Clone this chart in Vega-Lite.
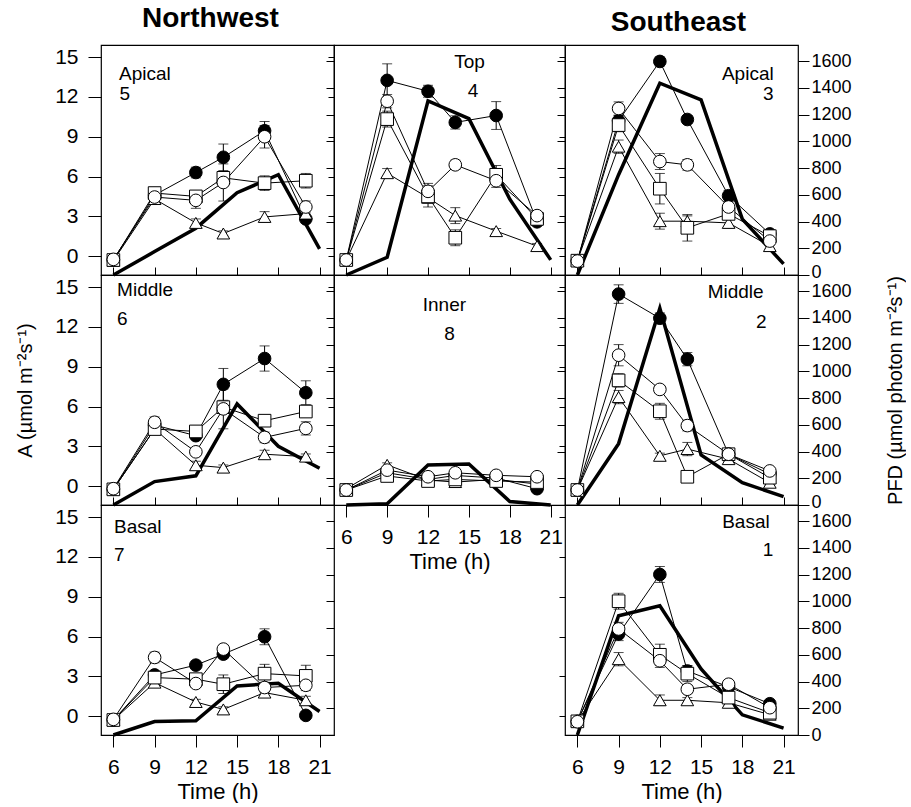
{
"$schema": "https://vega.github.io/schema/vega-lite/v6.json",
"padding": {"left": 15, "top": 4, "right": 0, "bottom": 0},
"background": "white",
"config": {
  "font": "Liberation Sans",
  "view": {"stroke": "black", "strokeWidth": 1.2},
  "axis": {"domain": false, "grid": false, "tickColor": "black", "tickWidth": 1, "labelColor": "black", "titleColor": "black", "labelFont": "Liberation Sans", "titleFont": "Liberation Sans", "titleFontWeight": "normal"},
  "title": {"font": "Liberation Sans", "color": "black", "fontWeight": "bold", "fontSize": 28},
  "text": {"font": "Liberation Sans", "fontSize": 19, "color": "black"}
},
"datasets": {
"pts": [
{"panel":5,"series":"filled circle","time":6,"A":-0.3,"se":0.1},{"panel":5,"series":"filled circle","time":9,"A":4.6,"se":0.3},{"panel":5,"series":"filled circle","time":12,"A":6.3,"se":0.4},{"panel":5,"series":"filled circle","time":14,"A":7.45,"se":1.0},{"panel":5,"series":"filled circle","time":17,"A":9.45,"se":0.7},{"panel":5,"series":"filled circle","time":20,"A":2.8,"se":0.3},
{"panel":5,"series":"open triangle","time":6,"A":-0.35,"se":0.1},{"panel":5,"series":"open triangle","time":9,"A":4.3,"se":0.2},{"panel":5,"series":"open triangle","time":12,"A":2.5,"se":0.3},{"panel":5,"series":"open triangle","time":14,"A":1.7,"se":0.2},{"panel":5,"series":"open triangle","time":17,"A":2.95,"se":0.4},{"panel":5,"series":"open triangle","time":20,"A":3.2,"se":0.2},
{"panel":5,"series":"open square","time":6,"A":-0.3,"se":0.1},{"panel":5,"series":"open square","time":9,"A":4.75,"se":0.3},{"panel":5,"series":"open square","time":12,"A":4.5,"se":0.3},{"panel":5,"series":"open square","time":14,"A":5.9,"se":0.35},{"panel":5,"series":"open square","time":17,"A":5.5,"se":0.55},{"panel":5,"series":"open square","time":20,"A":5.68,"se":0.55},
{"panel":5,"series":"open circle","time":6,"A":-0.25,"se":0.3},{"panel":5,"series":"open circle","time":9,"A":4.45,"se":0.3},{"panel":5,"series":"open circle","time":12,"A":4.2,"se":0.6},{"panel":5,"series":"open circle","time":14,"A":5.55,"se":1.4},{"panel":5,"series":"open circle","time":17,"A":9.0,"se":0.85},{"panel":5,"series":"open circle","time":20,"A":3.7,"se":0.45},
{"panel":4,"series":"filled circle","time":6,"A":-0.3,"se":0.1},{"panel":4,"series":"filled circle","time":9,"A":13.25,"se":1.25},{"panel":4,"series":"filled circle","time":12,"A":12.43,"se":0.45},{"panel":4,"series":"filled circle","time":14,"A":10.08,"se":0.5},{"panel":4,"series":"filled circle","time":17,"A":10.6,"se":1.05},{"panel":4,"series":"filled circle","time":20,"A":2.58,"se":0.3},
{"panel":4,"series":"open triangle","time":6,"A":-0.3,"se":0.1},{"panel":4,"series":"open triangle","time":9,"A":6.25,"se":0.35},{"panel":4,"series":"open triangle","time":12,"A":4.4,"se":0.4},{"panel":4,"series":"open triangle","time":14,"A":3.05,"se":0.6},{"panel":4,"series":"open triangle","time":17,"A":1.88,"se":0.2},{"panel":4,"series":"open triangle","time":20,"A":0.75,"se":0.2},
{"panel":4,"series":"open square","time":6,"A":-0.3,"se":0.1},{"panel":4,"series":"open square","time":9,"A":10.33,"se":0.6},{"panel":4,"series":"open square","time":12,"A":4.5,"se":0.8},{"panel":4,"series":"open square","time":14,"A":1.38,"se":0.6},{"panel":4,"series":"open square","time":17,"A":6.13,"se":0.7},{"panel":4,"series":"open square","time":20,"A":2.8,"se":0.3},
{"panel":4,"series":"open circle","time":6,"A":-0.3,"se":0.3},{"panel":4,"series":"open circle","time":9,"A":11.68,"se":0.5},{"panel":4,"series":"open circle","time":12,"A":4.88,"se":0.6},{"panel":4,"series":"open circle","time":14,"A":6.88,"se":0.35},{"panel":4,"series":"open circle","time":17,"A":5.68,"se":0.5},{"panel":4,"series":"open circle","time":20,"A":3.05,"se":0.3},
{"panel":3,"series":"filled circle","time":6,"A":-0.35,"se":0.1},{"panel":3,"series":"filled circle","time":9,"A":10.2,"se":0.4},{"panel":3,"series":"filled circle","time":12,"A":14.68,"se":0.35},{"panel":3,"series":"filled circle","time":14,"A":10.3,"se":0.3},{"panel":3,"series":"filled circle","time":17,"A":4.55,"se":0.4},{"panel":3,"series":"filled circle","time":20,"A":1.67,"se":0.2},
{"panel":3,"series":"open triangle","time":6,"A":-0.35,"se":0.1},{"panel":3,"series":"open triangle","time":9,"A":8.25,"se":0.5},{"panel":3,"series":"open triangle","time":12,"A":2.63,"se":0.6},{"panel":3,"series":"open triangle","time":14,"A":2.63,"se":0.4},{"panel":3,"series":"open triangle","time":17,"A":2.5,"se":0.4},{"panel":3,"series":"open triangle","time":20,"A":0.75,"se":0.2},
{"panel":3,"series":"open square","time":6,"A":-0.35,"se":0.1},{"panel":3,"series":"open square","time":9,"A":9.88,"se":0.5},{"panel":3,"series":"open square","time":12,"A":5.08,"se":1.15},{"panel":3,"series":"open square","time":14,"A":2.13,"se":1.0},{"panel":3,"series":"open square","time":17,"A":3.18,"se":0.4},{"panel":3,"series":"open square","time":20,"A":1.5,"se":0.2},
{"panel":3,"series":"open circle","time":6,"A":-0.38,"se":0.2},{"panel":3,"series":"open circle","time":9,"A":11.13,"se":0.5},{"panel":3,"series":"open circle","time":12,"A":7.13,"se":0.6},{"panel":3,"series":"open circle","time":14,"A":6.88,"se":0.4},{"panel":3,"series":"open circle","time":17,"A":3.7,"se":0.4},{"panel":3,"series":"open circle","time":20,"A":1.13,"se":0.3},
{"panel":6,"series":"filled circle","time":6,"A":-0.25,"se":0.1},{"panel":6,"series":"filled circle","time":9,"A":4.6,"se":0.3},{"panel":6,"series":"filled circle","time":12,"A":3.8,"se":0.3},{"panel":6,"series":"filled circle","time":14,"A":7.67,"se":1.2},{"panel":6,"series":"filled circle","time":17,"A":9.62,"se":0.95},{"panel":6,"series":"filled circle","time":20,"A":7.04,"se":0.9},
{"panel":6,"series":"open triangle","time":6,"A":-0.25,"se":0.1},{"panel":6,"series":"open triangle","time":9,"A":4.3,"se":0.2},{"panel":6,"series":"open triangle","time":12,"A":1.57,"se":0.3},{"panel":6,"series":"open triangle","time":14,"A":1.39,"se":0.2},{"panel":6,"series":"open triangle","time":17,"A":2.4,"se":0.3},{"panel":6,"series":"open triangle","time":20,"A":2.22,"se":0.2},
{"panel":6,"series":"open square","time":6,"A":-0.25,"se":0.1},{"panel":6,"series":"open square","time":9,"A":4.3,"se":0.3},{"panel":6,"series":"open square","time":12,"A":4.12,"se":0.4},{"panel":6,"series":"open square","time":14,"A":5.95,"se":0.3},{"panel":6,"series":"open square","time":17,"A":4.93,"se":0.3},{"panel":6,"series":"open square","time":20,"A":5.62,"se":0.4},
{"panel":6,"series":"open circle","time":6,"A":-0.2,"se":0.3},{"panel":6,"series":"open circle","time":9,"A":4.81,"se":0.4},{"panel":6,"series":"open circle","time":12,"A":2.58,"se":0.3},{"panel":6,"series":"open circle","time":14,"A":5.82,"se":1.5},{"panel":6,"series":"open circle","time":17,"A":3.67,"se":0.4},{"panel":6,"series":"open circle","time":20,"A":4.35,"se":0.5},
{"panel":8,"series":"filled circle","time":6,"A":-0.3,"se":0.1},{"panel":8,"series":"filled circle","time":9,"A":1.0,"se":0.15},{"panel":8,"series":"filled circle","time":12,"A":0.5,"se":0.15},{"panel":8,"series":"filled circle","time":14,"A":0.8,"se":0.15},{"panel":8,"series":"filled circle","time":17,"A":0.6,"se":0.15},{"panel":8,"series":"filled circle","time":20,"A":-0.2,"se":0.15},
{"panel":8,"series":"open triangle","time":6,"A":-0.2,"se":0.1},{"panel":8,"series":"open triangle","time":9,"A":1.6,"se":0.15},{"panel":8,"series":"open triangle","time":12,"A":0.45,"se":0.15},{"panel":8,"series":"open triangle","time":14,"A":0.3,"se":0.15},{"panel":8,"series":"open triangle","time":17,"A":0.5,"se":0.15},{"panel":8,"series":"open triangle","time":20,"A":0.15,"se":0.15},
{"panel":8,"series":"open square","time":6,"A":-0.3,"se":0.1},{"panel":8,"series":"open square","time":9,"A":0.76,"se":0.15},{"panel":8,"series":"open square","time":12,"A":0.38,"se":0.15},{"panel":8,"series":"open square","time":14,"A":0.5,"se":0.15},{"panel":8,"series":"open square","time":17,"A":0.38,"se":0.15},{"panel":8,"series":"open square","time":20,"A":0.3,"se":0.15},
{"panel":8,"series":"open circle","time":6,"A":-0.3,"se":0.1},{"panel":8,"series":"open circle","time":9,"A":1.2,"se":0.15},{"panel":8,"series":"open circle","time":12,"A":0.7,"se":0.15},{"panel":8,"series":"open circle","time":14,"A":1.0,"se":0.15},{"panel":8,"series":"open circle","time":17,"A":0.81,"se":0.15},{"panel":8,"series":"open circle","time":20,"A":0.7,"se":0.15},
{"panel":2,"series":"filled circle","time":6,"A":-0.3,"se":0.1},{"panel":2,"series":"filled circle","time":9,"A":14.48,"se":0.7},{"panel":2,"series":"filled circle","time":12,"A":12.66,"se":0.4},{"panel":2,"series":"filled circle","time":14,"A":9.57,"se":0.5},{"panel":2,"series":"filled circle","time":17,"A":2.4,"se":0.3},{"panel":2,"series":"filled circle","time":20,"A":0.9,"se":0.2},
{"panel":2,"series":"open triangle","time":6,"A":-0.3,"se":0.1},{"panel":2,"series":"open triangle","time":9,"A":6.71,"se":0.5},{"panel":2,"series":"open triangle","time":12,"A":2.28,"se":0.2},{"panel":2,"series":"open triangle","time":14,"A":2.79,"se":0.5},{"panel":2,"series":"open triangle","time":17,"A":2.03,"se":0.2},{"panel":2,"series":"open triangle","time":20,"A":0.25,"se":0.2},
{"panel":2,"series":"open square","time":6,"A":-0.3,"se":0.1},{"panel":2,"series":"open square","time":9,"A":7.97,"se":0.5},{"panel":2,"series":"open square","time":12,"A":5.64,"se":0.6},{"panel":2,"series":"open square","time":14,"A":0.7,"se":0.3},{"panel":2,"series":"open square","time":17,"A":2.4,"se":0.2},{"panel":2,"series":"open square","time":20,"A":0.63,"se":0.2},
{"panel":2,"series":"open circle","time":6,"A":-0.3,"se":0.2},{"panel":2,"series":"open circle","time":9,"A":9.87,"se":0.8},{"panel":2,"series":"open circle","time":12,"A":7.29,"se":0.3},{"panel":2,"series":"open circle","time":14,"A":4.56,"se":0.4},{"panel":2,"series":"open circle","time":17,"A":2.4,"se":0.3},{"panel":2,"series":"open circle","time":20,"A":1.14,"se":0.2},
{"panel":7,"series":"filled circle","time":6,"A":-0.3,"se":0.1},{"panel":7,"series":"filled circle","time":9,"A":3.1,"se":0.3},{"panel":7,"series":"filled circle","time":12,"A":3.84,"se":0.3},{"panel":7,"series":"filled circle","time":14,"A":4.67,"se":0.3},{"panel":7,"series":"filled circle","time":17,"A":5.98,"se":0.6},{"panel":7,"series":"filled circle","time":20,"A":0.05,"se":0.3},
{"panel":7,"series":"open triangle","time":6,"A":-0.3,"se":0.1},{"panel":7,"series":"open triangle","time":9,"A":2.52,"se":0.2},{"panel":7,"series":"open triangle","time":12,"A":1.06,"se":0.2},{"panel":7,"series":"open triangle","time":14,"A":0.5,"se":0.2},{"panel":7,"series":"open triangle","time":17,"A":1.77,"se":0.3},{"panel":7,"series":"open triangle","time":20,"A":1.19,"se":0.3},
{"panel":7,"series":"open square","time":6,"A":-0.3,"se":0.1},{"panel":7,"series":"open square","time":9,"A":2.9,"se":0.4},{"panel":7,"series":"open square","time":12,"A":2.78,"se":0.3},{"panel":7,"series":"open square","time":14,"A":2.4,"se":0.7},{"panel":7,"series":"open square","time":17,"A":3.2,"se":0.7},{"panel":7,"series":"open square","time":20,"A":3.03,"se":0.8},
{"panel":7,"series":"open circle","time":6,"A":-0.25,"se":0.2},{"panel":7,"series":"open circle","time":9,"A":4.42,"se":0.4},{"panel":7,"series":"open circle","time":12,"A":2.45,"se":0.3},{"panel":7,"series":"open circle","time":14,"A":5.05,"se":0.3},{"panel":7,"series":"open circle","time":17,"A":2.15,"se":0.4},{"panel":7,"series":"open circle","time":20,"A":2.32,"se":0.4},
{"panel":1,"series":"filled circle","time":6,"A":-0.4,"se":0.1},{"panel":1,"series":"filled circle","time":9,"A":6.19,"se":0.5},{"panel":1,"series":"filled circle","time":12,"A":10.68,"se":0.6},{"panel":1,"series":"filled circle","time":14,"A":3.4,"se":0.4},{"panel":1,"series":"filled circle","time":17,"A":2.2,"se":0.3},{"panel":1,"series":"filled circle","time":20,"A":0.93,"se":0.2},
{"panel":1,"series":"open triangle","time":6,"A":-0.4,"se":0.1},{"panel":1,"series":"open triangle","time":9,"A":4.29,"se":0.5},{"panel":1,"series":"open triangle","time":12,"A":1.19,"se":0.4},{"panel":1,"series":"open triangle","time":14,"A":1.19,"se":0.2},{"panel":1,"series":"open triangle","time":17,"A":1.0,"se":0.2},{"panel":1,"series":"open triangle","time":20,"A":0.1,"se":0.2},
{"panel":1,"series":"open square","time":6,"A":-0.4,"se":0.1},{"panel":1,"series":"open square","time":9,"A":8.66,"se":0.6},{"panel":1,"series":"open square","time":12,"A":4.62,"se":0.8},{"panel":1,"series":"open square","time":14,"A":3.2,"se":0.6},{"panel":1,"series":"open square","time":17,"A":1.39,"se":0.3},{"panel":1,"series":"open square","time":20,"A":0.25,"se":0.2},
{"panel":1,"series":"open circle","time":6,"A":-0.43,"se":0.2},{"panel":1,"series":"open circle","time":9,"A":6.57,"se":0.5},{"panel":1,"series":"open circle","time":12,"A":4.17,"se":0.5},{"panel":1,"series":"open circle","time":14,"A":2.02,"se":0.3},{"panel":1,"series":"open circle","time":17,"A":2.4,"se":0.2},{"panel":1,"series":"open circle","time":20,"A":0.63,"se":0.2}
],
"pfd": [
{"panel":5,"time":6,"PFD":0},{"panel":5,"time":9,"PFD":175},{"panel":5,"time":12,"PFD":350},{"panel":5,"time":15,"PFD":615},{"panel":5,"time":18,"PFD":750},{"panel":5,"time":21,"PFD":195},
{"panel":4,"time":6,"PFD":0},{"panel":4,"time":9,"PFD":132},{"panel":4,"time":12,"PFD":1302},{"panel":4,"time":15,"PFD":1169},{"panel":4,"time":18,"PFD":567},{"panel":4,"time":21,"PFD":113},
{"panel":3,"time":6,"PFD":0},{"panel":3,"time":9,"PFD":750},{"panel":3,"time":12,"PFD":1434},{"panel":3,"time":15,"PFD":1310},{"panel":3,"time":18,"PFD":418},{"panel":3,"time":21,"PFD":83},
{"panel":6,"time":6,"PFD":0},{"panel":6,"time":9,"PFD":175},{"panel":6,"time":12,"PFD":218},{"panel":6,"time":15,"PFD":756},{"panel":6,"time":18,"PFD":439},{"panel":6,"time":21,"PFD":275},
{"panel":8,"time":6,"PFD":0},{"panel":8,"time":9,"PFD":10},{"panel":8,"time":12,"PFD":300},{"panel":8,"time":15,"PFD":307},{"panel":8,"time":18,"PFD":26},{"panel":8,"time":21,"PFD":0},
{"panel":2,"time":6,"PFD":0},{"panel":2,"time":9,"PFD":459},{"panel":2,"time":12,"PFD":1472},{"panel":2,"time":15,"PFD":375},{"panel":2,"time":18,"PFD":167},{"panel":2,"time":21,"PFD":63},
{"panel":7,"time":6,"PFD":0},{"panel":7,"time":9,"PFD":101},{"panel":7,"time":12,"PFD":106},{"panel":7,"time":15,"PFD":367},{"panel":7,"time":18,"PFD":387},{"panel":7,"time":21,"PFD":176},
{"panel":1,"time":6,"PFD":0},{"panel":1,"time":9,"PFD":892},{"panel":1,"time":12,"PFD":967},{"panel":1,"time":15,"PFD":494},{"panel":1,"time":18,"PFD":151},{"panel":1,"time":21,"PFD":52}
]
},
"columns": 3,
"spacing": 0,
"bounds": "flush",
"concat": [
{
 "width": 233, "height": 230,
 "title": {"text": "Northwest", "anchor": "middle", "frame": "group", "dx": -7, "offset": 12},
 "resolve": {"scale": {"y": "independent"}},
 "layer": [
  {"data": {"name": "pfd"}, "transform": [{"filter": "datum.panel == 5"}],
   "mark": {"type": "line", "color": "black", "strokeWidth": 3.5},
   "encoding": {
    "x": {"field": "time", "type": "quantitative", "scale": {"domain": [5.1, 22.05], "nice": false, "zero": false}, "axis": {"values": [6,9,12,15,18,21], "tickSize": -8, "labels": false, "title": null}},
    "y": {"field": "PFD", "type": "quantitative", "scale": {"domain": [0, 1720], "nice": false}, "axis": {"orient": "right", "values": [0,200,400,600,800,1000,1200,1400,1600], "tickSize": -8, "labels": false, "title": null}}}},
  {"layer": [
    {"data": {"name": "pts"}, "transform": [{"filter": "datum.panel == 5"}], "mark": {"type": "line", "color": "black", "strokeWidth": 1},
     "encoding": {"x": {"field": "time", "type": "quantitative", "scale": {"domain": [5.1, 22.05], "nice": false, "zero": false}, "axis": {"values": [6,9,12,15,18,21], "tickSize": -8, "labels": false, "title": null}},
      "y": {"field": "A", "type": "quantitative", "scale": {"domain": [-1.43, 15.92], "nice": false, "zero": false}, "axis": {"values": [0,3,6,9,12,15], "tickSize": 13, "labelFontSize": 21, "labelPadding": 10, "title": null}},
      "detail": {"field": "series"}}},
    {"data": {"name": "pts"}, "transform": [{"filter": "datum.panel == 5"}], "mark": {"type": "errorbar", "ticks": {"size": 10}, "color": "black", "thickness": 1},
     "encoding": {"x": {"field": "time", "type": "quantitative", "scale": {"domain": [5.1, 22.05], "nice": false, "zero": false}, "axis": {"values": [6,9,12,15,18,21], "tickSize": -8, "labels": false, "title": null}},
      "y": {"field": "A", "type": "quantitative", "scale": {"domain": [-1.43, 15.92], "nice": false, "zero": false}, "axis": {"values": [0,3,6,9,12,15], "tickSize": 13, "labelFontSize": 21, "labelPadding": 10, "title": null}},
      "yError": {"field": "se"}}},
    {"data": {"name": "pts"}, "transform": [{"filter": "datum.panel == 5"}], "mark": {"type": "point", "filled": true, "stroke": "black", "strokeWidth": 1, "opacity": 1, "size": 160},
     "encoding": {"x": {"field": "time", "type": "quantitative", "scale": {"domain": [5.1, 22.05], "nice": false, "zero": false}, "axis": {"values": [6,9,12,15,18,21], "tickSize": -8, "labels": false, "title": null}},
      "y": {"field": "A", "type": "quantitative", "scale": {"domain": [-1.43, 15.92], "nice": false, "zero": false}, "axis": {"values": [0,3,6,9,12,15], "tickSize": 13, "labelFontSize": 21, "labelPadding": 10, "title": null}},
      "shape": {"field": "series", "type": "nominal", "scale": {"domain": ["filled circle","open circle","open square","open triangle"], "range": ["circle","circle","square","triangle-up"]}, "legend": null},
      "fill": {"field": "series", "type": "nominal", "scale": {"domain": ["filled circle","open circle","open square","open triangle"], "range": ["black","white","white","white"]}, "legend": null}}},
    {"data": {"values": [{}]}, "mark": {"type": "text", "text": "Apical", "align": "left", "baseline": "alphabetic"}, "encoding": {"x": {"datum": 6.41, "axis": {"values": [6,9,12,15,18,21], "tickSize": -8, "labels": false, "title": null}}, "y": {"datum": 13.26, "axis": {"values": [0,3,6,9,12,15], "tickSize": 13, "labelFontSize": 21, "labelPadding": 10, "title": null}}}},
    {"data": {"values": [{}]}, "mark": {"type": "text", "text": "5", "align": "left", "baseline": "alphabetic"}, "encoding": {"x": {"datum": 6.45, "axis": {"values": [6,9,12,15,18,21], "tickSize": -8, "labels": false, "title": null}}, "y": {"datum": 11.78, "axis": {"values": [0,3,6,9,12,15], "tickSize": 13, "labelFontSize": 21, "labelPadding": 10, "title": null}}}}
  ]}
 ]
},
{
 "width": 231, "height": 230,
 "resolve": {"scale": {"y": "independent"}},
 "layer": [
  {"data": {"name": "pfd"}, "transform": [{"filter": "datum.panel == 4"}],
   "mark": {"type": "line", "color": "black", "strokeWidth": 3.5},
   "encoding": {
    "x": {"field": "time", "type": "quantitative", "scale": {"domain": [5.1, 22.05], "nice": false, "zero": false}, "axis": {"values": [6,9,12,15,18,21], "tickSize": -8, "labels": false, "title": null}},
    "y": {"field": "PFD", "type": "quantitative", "scale": {"domain": [0, 1720], "nice": false}, "axis": {"orient": "right", "values": [0,200,400,600,800,1000,1200,1400,1600], "tickSize": -8, "labels": false, "title": null}}}},
  {"layer": [
    {"data": {"name": "pts"}, "transform": [{"filter": "datum.panel == 4"}], "mark": {"type": "line", "color": "black", "strokeWidth": 1},
     "encoding": {"x": {"field": "time", "type": "quantitative", "scale": {"domain": [5.1, 22.05], "nice": false, "zero": false}, "axis": {"values": [6,9,12,15,18,21], "tickSize": -8, "labels": false, "title": null}},
      "y": {"field": "A", "type": "quantitative", "scale": {"domain": [-1.43, 15.92], "nice": false, "zero": false}, "axis": {"values": [0,3,6,9,12,15], "tickSize": 6, "labels": false, "title": null}},
      "detail": {"field": "series"}}},
    {"data": {"name": "pts"}, "transform": [{"filter": "datum.panel == 4"}], "mark": {"type": "errorbar", "ticks": {"size": 10}, "color": "black", "thickness": 1},
     "encoding": {"x": {"field": "time", "type": "quantitative", "scale": {"domain": [5.1, 22.05], "nice": false, "zero": false}, "axis": {"values": [6,9,12,15,18,21], "tickSize": -8, "labels": false, "title": null}},
      "y": {"field": "A", "type": "quantitative", "scale": {"domain": [-1.43, 15.92], "nice": false, "zero": false}, "axis": {"values": [0,3,6,9,12,15], "tickSize": 6, "labels": false, "title": null}},
      "yError": {"field": "se"}}},
    {"data": {"name": "pts"}, "transform": [{"filter": "datum.panel == 4"}], "mark": {"type": "point", "filled": true, "stroke": "black", "strokeWidth": 1, "opacity": 1, "size": 160},
     "encoding": {"x": {"field": "time", "type": "quantitative", "scale": {"domain": [5.1, 22.05], "nice": false, "zero": false}, "axis": {"values": [6,9,12,15,18,21], "tickSize": -8, "labels": false, "title": null}},
      "y": {"field": "A", "type": "quantitative", "scale": {"domain": [-1.43, 15.92], "nice": false, "zero": false}, "axis": {"values": [0,3,6,9,12,15], "tickSize": 6, "labels": false, "title": null}},
      "shape": {"field": "series", "type": "nominal", "scale": {"domain": ["filled circle","open circle","open square","open triangle"], "range": ["circle","circle","square","triangle-up"]}, "legend": null},
      "fill": {"field": "series", "type": "nominal", "scale": {"domain": ["filled circle","open circle","open square","open triangle"], "range": ["black","white","white","white"]}, "legend": null}}},
    {"data": {"values": [{}]}, "mark": {"type": "text", "text": "Top", "align": "center", "baseline": "alphabetic"}, "encoding": {"x": {"datum": 15.04, "axis": {"values": [6,9,12,15,18,21], "tickSize": -8, "labels": false, "title": null}}, "y": {"datum": 14.18, "axis": {"values": [0,3,6,9,12,15], "tickSize": 6, "labels": false, "title": null}}}},
    {"data": {"values": [{}]}, "mark": {"type": "text", "text": "4", "align": "center", "baseline": "alphabetic"}, "encoding": {"x": {"datum": 15.3, "axis": {"values": [6,9,12,15,18,21], "tickSize": -8, "labels": false, "title": null}}, "y": {"datum": 12.0, "axis": {"values": [0,3,6,9,12,15], "tickSize": 6, "labels": false, "title": null}}}}
  ]}
 ]
},
{
 "width": 233, "height": 230,
 "title": {"text": "Southeast", "anchor": "middle", "frame": "group", "dx": -3, "offset": 8},
 "resolve": {"scale": {"y": "independent"}},
 "layer": [
  {"data": {"name": "pfd"}, "transform": [{"filter": "datum.panel == 3"}],
   "mark": {"type": "line", "color": "black", "strokeWidth": 3.5},
   "encoding": {
    "x": {"field": "time", "type": "quantitative", "scale": {"domain": [5.1, 22.05], "nice": false, "zero": false}, "axis": {"values": [6,9,12,15,18,21], "tickSize": -8, "labels": false, "title": null}},
    "y": {"field": "PFD", "type": "quantitative", "scale": {"domain": [0, 1720], "nice": false}, "axis": {"orient": "right", "values": [0,200,400,600,800,1000,1200,1400,1600], "format": "d", "tickSize": 11, "labelFontSize": 18, "labelPadding": 2, "labelFlush": true, "labelFlushOffset": 6, "title": null}}}},
  {"layer": [
    {"data": {"name": "pts"}, "transform": [{"filter": "datum.panel == 3"}], "mark": {"type": "line", "color": "black", "strokeWidth": 1},
     "encoding": {"x": {"field": "time", "type": "quantitative", "scale": {"domain": [5.1, 22.05], "nice": false, "zero": false}, "axis": {"values": [6,9,12,15,18,21], "tickSize": -8, "labels": false, "title": null}},
      "y": {"field": "A", "type": "quantitative", "scale": {"domain": [-1.43, 15.92], "nice": false, "zero": false}, "axis": {"values": [0,3,6,9,12,15], "tickSize": 6, "labels": false, "title": null}},
      "detail": {"field": "series"}}},
    {"data": {"name": "pts"}, "transform": [{"filter": "datum.panel == 3"}], "mark": {"type": "errorbar", "ticks": {"size": 10}, "color": "black", "thickness": 1},
     "encoding": {"x": {"field": "time", "type": "quantitative", "scale": {"domain": [5.1, 22.05], "nice": false, "zero": false}, "axis": {"values": [6,9,12,15,18,21], "tickSize": -8, "labels": false, "title": null}},
      "y": {"field": "A", "type": "quantitative", "scale": {"domain": [-1.43, 15.92], "nice": false, "zero": false}, "axis": {"values": [0,3,6,9,12,15], "tickSize": 6, "labels": false, "title": null}},
      "yError": {"field": "se"}}},
    {"data": {"name": "pts"}, "transform": [{"filter": "datum.panel == 3"}], "mark": {"type": "point", "filled": true, "stroke": "black", "strokeWidth": 1, "opacity": 1, "size": 160},
     "encoding": {"x": {"field": "time", "type": "quantitative", "scale": {"domain": [5.1, 22.05], "nice": false, "zero": false}, "axis": {"values": [6,9,12,15,18,21], "tickSize": -8, "labels": false, "title": null}},
      "y": {"field": "A", "type": "quantitative", "scale": {"domain": [-1.43, 15.92], "nice": false, "zero": false}, "axis": {"values": [0,3,6,9,12,15], "tickSize": 6, "labels": false, "title": null}},
      "shape": {"field": "series", "type": "nominal", "scale": {"domain": ["filled circle","open circle","open square","open triangle"], "range": ["circle","circle","square","triangle-up"]}, "legend": null},
      "fill": {"field": "series", "type": "nominal", "scale": {"domain": ["filled circle","open circle","open square","open triangle"], "range": ["black","white","white","white"]}, "legend": null}}},
    {"data": {"values": [{}]}, "mark": {"type": "text", "text": "Apical", "align": "right", "baseline": "alphabetic"}, "encoding": {"x": {"datum": 20.28, "axis": {"values": [6,9,12,15,18,21], "tickSize": -8, "labels": false, "title": null}}, "y": {"datum": 13.26, "axis": {"values": [0,3,6,9,12,15], "tickSize": 6, "labels": false, "title": null}}}},
    {"data": {"values": [{}]}, "mark": {"type": "text", "text": "3", "align": "right", "baseline": "alphabetic"}, "encoding": {"x": {"datum": 20.28, "axis": {"values": [6,9,12,15,18,21], "tickSize": -8, "labels": false, "title": null}}, "y": {"datum": 11.78, "axis": {"values": [0,3,6,9,12,15], "tickSize": 6, "labels": false, "title": null}}}}
  ]}
 ]
},
{
 "width": 233, "height": 230,
 "resolve": {"scale": {"y": "independent"}},
 "layer": [
  {"data": {"name": "pfd"}, "transform": [{"filter": "datum.panel == 6"}],
   "mark": {"type": "line", "color": "black", "strokeWidth": 3.5},
   "encoding": {
    "x": {"field": "time", "type": "quantitative", "scale": {"domain": [5.1, 22.05], "nice": false, "zero": false}, "axis": {"values": [6,9,12,15,18,21], "tickSize": -8, "labels": false, "title": null}},
    "y": {"field": "PFD", "type": "quantitative", "scale": {"domain": [0, 1720], "nice": false}, "axis": {"orient": "right", "values": [0,200,400,600,800,1000,1200,1400,1600], "tickSize": -8, "labels": false, "title": null}}}},
  {"layer": [
    {"data": {"name": "pts"}, "transform": [{"filter": "datum.panel == 6"}], "mark": {"type": "line", "color": "black", "strokeWidth": 1},
     "encoding": {"x": {"field": "time", "type": "quantitative", "scale": {"domain": [5.1, 22.05], "nice": false, "zero": false}, "axis": {"values": [6,9,12,15,18,21], "tickSize": -8, "labels": false, "title": null}},
      "y": {"field": "A", "type": "quantitative", "scale": {"domain": [-1.43, 15.92], "nice": false, "zero": false}, "axis": {"values": [0,3,6,9,12,15], "tickSize": 13, "labelFontSize": 21, "labelPadding": 10, "title": "A (µmol m⁻²s⁻¹)", "titleFontSize": 20, "titlePadding": 19}},
      "detail": {"field": "series"}}},
    {"data": {"name": "pts"}, "transform": [{"filter": "datum.panel == 6"}], "mark": {"type": "errorbar", "ticks": {"size": 10}, "color": "black", "thickness": 1},
     "encoding": {"x": {"field": "time", "type": "quantitative", "scale": {"domain": [5.1, 22.05], "nice": false, "zero": false}, "axis": {"values": [6,9,12,15,18,21], "tickSize": -8, "labels": false, "title": null}},
      "y": {"field": "A", "type": "quantitative", "scale": {"domain": [-1.43, 15.92], "nice": false, "zero": false}, "axis": {"values": [0,3,6,9,12,15], "tickSize": 13, "labelFontSize": 21, "labelPadding": 10, "title": "A (µmol m⁻²s⁻¹)", "titleFontSize": 20, "titlePadding": 19}},
      "yError": {"field": "se"}}},
    {"data": {"name": "pts"}, "transform": [{"filter": "datum.panel == 6"}], "mark": {"type": "point", "filled": true, "stroke": "black", "strokeWidth": 1, "opacity": 1, "size": 160},
     "encoding": {"x": {"field": "time", "type": "quantitative", "scale": {"domain": [5.1, 22.05], "nice": false, "zero": false}, "axis": {"values": [6,9,12,15,18,21], "tickSize": -8, "labels": false, "title": null}},
      "y": {"field": "A", "type": "quantitative", "scale": {"domain": [-1.43, 15.92], "nice": false, "zero": false}, "axis": {"values": [0,3,6,9,12,15], "tickSize": 13, "labelFontSize": 21, "labelPadding": 10, "title": "A (µmol m⁻²s⁻¹)", "titleFontSize": 20, "titlePadding": 19}},
      "shape": {"field": "series", "type": "nominal", "scale": {"domain": ["filled circle","open circle","open square","open triangle"], "range": ["circle","circle","square","triangle-up"]}, "legend": null},
      "fill": {"field": "series", "type": "nominal", "scale": {"domain": ["filled circle","open circle","open square","open triangle"], "range": ["black","white","white","white"]}, "legend": null}}},
    {"data": {"values": [{}]}, "mark": {"type": "text", "text": "Middle", "align": "left", "baseline": "alphabetic"}, "encoding": {"x": {"datum": 6.27, "axis": {"values": [6,9,12,15,18,21], "tickSize": -8, "labels": false, "title": null}}, "y": {"datum": 14.37, "axis": {"values": [0,3,6,9,12,15], "tickSize": 13, "labelFontSize": 21, "labelPadding": 10, "title": "A (µmol m⁻²s⁻¹)", "titleFontSize": 20, "titlePadding": 19}}}},
    {"data": {"values": [{}]}, "mark": {"type": "text", "text": "6", "align": "left", "baseline": "alphabetic"}, "encoding": {"x": {"datum": 6.27, "axis": {"values": [6,9,12,15,18,21], "tickSize": -8, "labels": false, "title": null}}, "y": {"datum": 12.15, "axis": {"values": [0,3,6,9,12,15], "tickSize": 13, "labelFontSize": 21, "labelPadding": 10, "title": "A (µmol m⁻²s⁻¹)", "titleFontSize": 20, "titlePadding": 19}}}}
  ]}
 ]
},
{
 "width": 231, "height": 230,
 "resolve": {"scale": {"y": "independent"}},
 "layer": [
  {"data": {"name": "pfd"}, "transform": [{"filter": "datum.panel == 8"}],
   "mark": {"type": "line", "color": "black", "strokeWidth": 3.5},
   "encoding": {
    "x": {"field": "time", "type": "quantitative", "scale": {"domain": [5.1, 22.05], "nice": false, "zero": false}, "axis": {"values": [6,9,12,15,18,21], "tickSize": 12, "labelFontSize": 21, "labelPadding": 9, "title": "Time (h)", "titleFontSize": 22, "titlePadding": 4}},
    "y": {"field": "PFD", "type": "quantitative", "scale": {"domain": [0, 1720], "nice": false}, "axis": {"orient": "right", "values": [0,200,400,600,800,1000,1200,1400,1600], "tickSize": -8, "labels": false, "title": null}}}},
  {"layer": [
    {"data": {"name": "pts"}, "transform": [{"filter": "datum.panel == 8"}], "mark": {"type": "line", "color": "black", "strokeWidth": 1},
     "encoding": {"x": {"field": "time", "type": "quantitative", "scale": {"domain": [5.1, 22.05], "nice": false, "zero": false}, "axis": {"values": [6,9,12,15,18,21], "tickSize": 12, "labelFontSize": 21, "labelPadding": 9, "title": "Time (h)", "titleFontSize": 22, "titlePadding": 4}},
      "y": {"field": "A", "type": "quantitative", "scale": {"domain": [-1.43, 15.92], "nice": false, "zero": false}, "axis": {"values": [0,3,6,9,12,15], "tickSize": 6, "labels": false, "title": null}},
      "detail": {"field": "series"}}},
    {"data": {"name": "pts"}, "transform": [{"filter": "datum.panel == 8"}], "mark": {"type": "errorbar", "ticks": {"size": 10}, "color": "black", "thickness": 1},
     "encoding": {"x": {"field": "time", "type": "quantitative", "scale": {"domain": [5.1, 22.05], "nice": false, "zero": false}, "axis": {"values": [6,9,12,15,18,21], "tickSize": 12, "labelFontSize": 21, "labelPadding": 9, "title": "Time (h)", "titleFontSize": 22, "titlePadding": 4}},
      "y": {"field": "A", "type": "quantitative", "scale": {"domain": [-1.43, 15.92], "nice": false, "zero": false}, "axis": {"values": [0,3,6,9,12,15], "tickSize": 6, "labels": false, "title": null}},
      "yError": {"field": "se"}}},
    {"data": {"name": "pts"}, "transform": [{"filter": "datum.panel == 8"}], "mark": {"type": "point", "filled": true, "stroke": "black", "strokeWidth": 1, "opacity": 1, "size": 160},
     "encoding": {"x": {"field": "time", "type": "quantitative", "scale": {"domain": [5.1, 22.05], "nice": false, "zero": false}, "axis": {"values": [6,9,12,15,18,21], "tickSize": 12, "labelFontSize": 21, "labelPadding": 9, "title": "Time (h)", "titleFontSize": 22, "titlePadding": 4}},
      "y": {"field": "A", "type": "quantitative", "scale": {"domain": [-1.43, 15.92], "nice": false, "zero": false}, "axis": {"values": [0,3,6,9,12,15], "tickSize": 6, "labels": false, "title": null}},
      "shape": {"field": "series", "type": "nominal", "scale": {"domain": ["filled circle","open circle","open square","open triangle"], "range": ["circle","circle","square","triangle-up"]}, "legend": null},
      "fill": {"field": "series", "type": "nominal", "scale": {"domain": ["filled circle","open circle","open square","open triangle"], "range": ["black","white","white","white"]}, "legend": null}}},
    {"data": {"values": [{}]}, "mark": {"type": "text", "text": "Inner", "align": "center", "baseline": "alphabetic"}, "encoding": {"x": {"datum": 13.2, "axis": {"values": [6,9,12,15,18,21], "tickSize": 12, "labelFontSize": 21, "labelPadding": 9, "title": "Time (h)", "titleFontSize": 22, "titlePadding": 4}}, "y": {"datum": 13.23, "axis": {"values": [0,3,6,9,12,15], "tickSize": 6, "labels": false, "title": null}}}},
    {"data": {"values": [{}]}, "mark": {"type": "text", "text": "8", "align": "center", "baseline": "alphabetic"}, "encoding": {"x": {"datum": 13.57, "axis": {"values": [6,9,12,15,18,21], "tickSize": 12, "labelFontSize": 21, "labelPadding": 9, "title": "Time (h)", "titleFontSize": 22, "titlePadding": 4}}, "y": {"datum": 11.0, "axis": {"values": [0,3,6,9,12,15], "tickSize": 6, "labels": false, "title": null}}}}
  ]}
 ]
},
{
 "width": 233, "height": 230,
 "resolve": {"scale": {"y": "independent"}},
 "layer": [
  {"data": {"name": "pfd"}, "transform": [{"filter": "datum.panel == 2"}],
   "mark": {"type": "line", "color": "black", "strokeWidth": 3.5},
   "encoding": {
    "x": {"field": "time", "type": "quantitative", "scale": {"domain": [5.1, 22.05], "nice": false, "zero": false}, "axis": {"values": [6,9,12,15,18,21], "tickSize": -8, "labels": false, "title": null}},
    "y": {"field": "PFD", "type": "quantitative", "scale": {"domain": [0, 1720], "nice": false}, "axis": {"orient": "right", "values": [0,200,400,600,800,1000,1200,1400,1600], "format": "d", "tickSize": 11, "labelFontSize": 18, "labelPadding": 2, "labelFlush": true, "labelFlushOffset": 6, "title": "PFD (µmol photon m⁻²s⁻¹)", "titleFontSize": 20, "titleAngle": 270, "titleBaseline": "top", "titlePadding": 34}}}},
  {"layer": [
    {"data": {"name": "pts"}, "transform": [{"filter": "datum.panel == 2"}], "mark": {"type": "line", "color": "black", "strokeWidth": 1},
     "encoding": {"x": {"field": "time", "type": "quantitative", "scale": {"domain": [5.1, 22.05], "nice": false, "zero": false}, "axis": {"values": [6,9,12,15,18,21], "tickSize": -8, "labels": false, "title": null}},
      "y": {"field": "A", "type": "quantitative", "scale": {"domain": [-1.43, 15.92], "nice": false, "zero": false}, "axis": {"values": [0,3,6,9,12,15], "tickSize": 6, "labels": false, "title": null}},
      "detail": {"field": "series"}}},
    {"data": {"name": "pts"}, "transform": [{"filter": "datum.panel == 2"}], "mark": {"type": "errorbar", "ticks": {"size": 10}, "color": "black", "thickness": 1},
     "encoding": {"x": {"field": "time", "type": "quantitative", "scale": {"domain": [5.1, 22.05], "nice": false, "zero": false}, "axis": {"values": [6,9,12,15,18,21], "tickSize": -8, "labels": false, "title": null}},
      "y": {"field": "A", "type": "quantitative", "scale": {"domain": [-1.43, 15.92], "nice": false, "zero": false}, "axis": {"values": [0,3,6,9,12,15], "tickSize": 6, "labels": false, "title": null}},
      "yError": {"field": "se"}}},
    {"data": {"name": "pts"}, "transform": [{"filter": "datum.panel == 2"}], "mark": {"type": "point", "filled": true, "stroke": "black", "strokeWidth": 1, "opacity": 1, "size": 160},
     "encoding": {"x": {"field": "time", "type": "quantitative", "scale": {"domain": [5.1, 22.05], "nice": false, "zero": false}, "axis": {"values": [6,9,12,15,18,21], "tickSize": -8, "labels": false, "title": null}},
      "y": {"field": "A", "type": "quantitative", "scale": {"domain": [-1.43, 15.92], "nice": false, "zero": false}, "axis": {"values": [0,3,6,9,12,15], "tickSize": 6, "labels": false, "title": null}},
      "shape": {"field": "series", "type": "nominal", "scale": {"domain": ["filled circle","open circle","open square","open triangle"], "range": ["circle","circle","square","triangle-up"]}, "legend": null},
      "fill": {"field": "series", "type": "nominal", "scale": {"domain": ["filled circle","open circle","open square","open triangle"], "range": ["black","white","white","white"]}, "legend": null}}},
    {"data": {"values": [{}]}, "mark": {"type": "text", "text": "Middle", "align": "right", "baseline": "alphabetic"}, "encoding": {"x": {"datum": 19.55, "axis": {"values": [6,9,12,15,18,21], "tickSize": -8, "labels": false, "title": null}}, "y": {"datum": 14.18, "axis": {"values": [0,3,6,9,12,15], "tickSize": 6, "labels": false, "title": null}}}},
    {"data": {"values": [{}]}, "mark": {"type": "text", "text": "2", "align": "right", "baseline": "alphabetic"}, "encoding": {"x": {"datum": 19.77, "axis": {"values": [6,9,12,15,18,21], "tickSize": -8, "labels": false, "title": null}}, "y": {"datum": 11.94, "axis": {"values": [0,3,6,9,12,15], "tickSize": 6, "labels": false, "title": null}}}}
  ]}
 ]
},
{
 "width": 233, "height": 230,
 "resolve": {"scale": {"y": "independent"}},
 "layer": [
  {"data": {"name": "pfd"}, "transform": [{"filter": "datum.panel == 7"}],
   "mark": {"type": "line", "color": "black", "strokeWidth": 3.5},
   "encoding": {
    "x": {"field": "time", "type": "quantitative", "scale": {"domain": [5.1, 22.05], "nice": false, "zero": false}, "axis": {"values": [6,9,12,15,18,21], "tickSize": 12, "labelFontSize": 21, "labelPadding": 9, "title": "Time (h)", "titleFontSize": 22, "titlePadding": 4}},
    "y": {"field": "PFD", "type": "quantitative", "scale": {"domain": [0, 1720], "nice": false}, "axis": {"orient": "right", "values": [0,200,400,600,800,1000,1200,1400,1600], "tickSize": -8, "labels": false, "title": null}}}},
  {"layer": [
    {"data": {"name": "pts"}, "transform": [{"filter": "datum.panel == 7"}], "mark": {"type": "line", "color": "black", "strokeWidth": 1},
     "encoding": {"x": {"field": "time", "type": "quantitative", "scale": {"domain": [5.1, 22.05], "nice": false, "zero": false}, "axis": {"values": [6,9,12,15,18,21], "tickSize": 12, "labelFontSize": 21, "labelPadding": 9, "title": "Time (h)", "titleFontSize": 22, "titlePadding": 4}},
      "y": {"field": "A", "type": "quantitative", "scale": {"domain": [-1.43, 15.92], "nice": false, "zero": false}, "axis": {"values": [0,3,6,9,12,15], "tickSize": 13, "labelFontSize": 21, "labelPadding": 10, "title": null}},
      "detail": {"field": "series"}}},
    {"data": {"name": "pts"}, "transform": [{"filter": "datum.panel == 7"}], "mark": {"type": "errorbar", "ticks": {"size": 10}, "color": "black", "thickness": 1},
     "encoding": {"x": {"field": "time", "type": "quantitative", "scale": {"domain": [5.1, 22.05], "nice": false, "zero": false}, "axis": {"values": [6,9,12,15,18,21], "tickSize": 12, "labelFontSize": 21, "labelPadding": 9, "title": "Time (h)", "titleFontSize": 22, "titlePadding": 4}},
      "y": {"field": "A", "type": "quantitative", "scale": {"domain": [-1.43, 15.92], "nice": false, "zero": false}, "axis": {"values": [0,3,6,9,12,15], "tickSize": 13, "labelFontSize": 21, "labelPadding": 10, "title": null}},
      "yError": {"field": "se"}}},
    {"data": {"name": "pts"}, "transform": [{"filter": "datum.panel == 7"}], "mark": {"type": "point", "filled": true, "stroke": "black", "strokeWidth": 1, "opacity": 1, "size": 160},
     "encoding": {"x": {"field": "time", "type": "quantitative", "scale": {"domain": [5.1, 22.05], "nice": false, "zero": false}, "axis": {"values": [6,9,12,15,18,21], "tickSize": 12, "labelFontSize": 21, "labelPadding": 9, "title": "Time (h)", "titleFontSize": 22, "titlePadding": 4}},
      "y": {"field": "A", "type": "quantitative", "scale": {"domain": [-1.43, 15.92], "nice": false, "zero": false}, "axis": {"values": [0,3,6,9,12,15], "tickSize": 13, "labelFontSize": 21, "labelPadding": 10, "title": null}},
      "shape": {"field": "series", "type": "nominal", "scale": {"domain": ["filled circle","open circle","open square","open triangle"], "range": ["circle","circle","square","triangle-up"]}, "legend": null},
      "fill": {"field": "series", "type": "nominal", "scale": {"domain": ["filled circle","open circle","open square","open triangle"], "range": ["black","white","white","white"]}, "legend": null}}},
    {"data": {"values": [{}]}, "mark": {"type": "text", "text": "Basal", "align": "left", "baseline": "alphabetic"}, "encoding": {"x": {"datum": 6.05, "axis": {"values": [6,9,12,15,18,21], "tickSize": 12, "labelFontSize": 21, "labelPadding": 9, "title": "Time (h)", "titleFontSize": 22, "titlePadding": 4}}, "y": {"datum": 13.84, "axis": {"values": [0,3,6,9,12,15], "tickSize": 13, "labelFontSize": 21, "labelPadding": 10, "title": null}}}},
    {"data": {"values": [{}]}, "mark": {"type": "text", "text": "7", "align": "left", "baseline": "alphabetic"}, "encoding": {"x": {"datum": 6.05, "axis": {"values": [6,9,12,15,18,21], "tickSize": 12, "labelFontSize": 21, "labelPadding": 9, "title": "Time (h)", "titleFontSize": 22, "titlePadding": 4}}, "y": {"datum": 11.67, "axis": {"values": [0,3,6,9,12,15], "tickSize": 13, "labelFontSize": 21, "labelPadding": 10, "title": null}}}}
  ]}
 ]
},
{
 "width": 231, "height": 230,
 "view": {"stroke": null},
 "data": {"values": [{}]},
 "mark": {"type": "text", "text": ""}
},
{
 "width": 233, "height": 230,
 "resolve": {"scale": {"y": "independent"}},
 "layer": [
  {"data": {"name": "pfd"}, "transform": [{"filter": "datum.panel == 1"}],
   "mark": {"type": "line", "color": "black", "strokeWidth": 3.5},
   "encoding": {
    "x": {"field": "time", "type": "quantitative", "scale": {"domain": [5.1, 22.05], "nice": false, "zero": false}, "axis": {"values": [6,9,12,15,18,21], "tickSize": 12, "labelFontSize": 21, "labelPadding": 9, "title": "Time (h)", "titleFontSize": 22, "titlePadding": 4}},
    "y": {"field": "PFD", "type": "quantitative", "scale": {"domain": [0, 1720], "nice": false}, "axis": {"orient": "right", "values": [0,200,400,600,800,1000,1200,1400,1600], "format": "d", "tickSize": 11, "labelFontSize": 18, "labelPadding": 2, "title": null}}}},
  {"layer": [
    {"data": {"name": "pts"}, "transform": [{"filter": "datum.panel == 1"}], "mark": {"type": "line", "color": "black", "strokeWidth": 1},
     "encoding": {"x": {"field": "time", "type": "quantitative", "scale": {"domain": [5.1, 22.05], "nice": false, "zero": false}, "axis": {"values": [6,9,12,15,18,21], "tickSize": 12, "labelFontSize": 21, "labelPadding": 9, "title": "Time (h)", "titleFontSize": 22, "titlePadding": 4}},
      "y": {"field": "A", "type": "quantitative", "scale": {"domain": [-1.43, 15.92], "nice": false, "zero": false}, "axis": {"values": [0,3,6,9,12,15], "tickSize": 6, "labels": false, "title": null}},
      "detail": {"field": "series"}}},
    {"data": {"name": "pts"}, "transform": [{"filter": "datum.panel == 1"}], "mark": {"type": "errorbar", "ticks": {"size": 10}, "color": "black", "thickness": 1},
     "encoding": {"x": {"field": "time", "type": "quantitative", "scale": {"domain": [5.1, 22.05], "nice": false, "zero": false}, "axis": {"values": [6,9,12,15,18,21], "tickSize": 12, "labelFontSize": 21, "labelPadding": 9, "title": "Time (h)", "titleFontSize": 22, "titlePadding": 4}},
      "y": {"field": "A", "type": "quantitative", "scale": {"domain": [-1.43, 15.92], "nice": false, "zero": false}, "axis": {"values": [0,3,6,9,12,15], "tickSize": 6, "labels": false, "title": null}},
      "yError": {"field": "se"}}},
    {"data": {"name": "pts"}, "transform": [{"filter": "datum.panel == 1"}], "mark": {"type": "point", "filled": true, "stroke": "black", "strokeWidth": 1, "opacity": 1, "size": 160},
     "encoding": {"x": {"field": "time", "type": "quantitative", "scale": {"domain": [5.1, 22.05], "nice": false, "zero": false}, "axis": {"values": [6,9,12,15,18,21], "tickSize": 12, "labelFontSize": 21, "labelPadding": 9, "title": "Time (h)", "titleFontSize": 22, "titlePadding": 4}},
      "y": {"field": "A", "type": "quantitative", "scale": {"domain": [-1.43, 15.92], "nice": false, "zero": false}, "axis": {"values": [0,3,6,9,12,15], "tickSize": 6, "labels": false, "title": null}},
      "shape": {"field": "series", "type": "nominal", "scale": {"domain": ["filled circle","open circle","open square","open triangle"], "range": ["circle","circle","square","triangle-up"]}, "legend": null},
      "fill": {"field": "series", "type": "nominal", "scale": {"domain": ["filled circle","open circle","open square","open triangle"], "range": ["black","white","white","white"]}, "legend": null}}},
    {"data": {"values": [{}]}, "mark": {"type": "text", "text": "Basal", "align": "right", "baseline": "alphabetic"}, "encoding": {"x": {"datum": 19.99, "axis": {"values": [6,9,12,15,18,21], "tickSize": 12, "labelFontSize": 21, "labelPadding": 9, "title": "Time (h)", "titleFontSize": 22, "titlePadding": 4}}, "y": {"datum": 14.2, "axis": {"values": [0,3,6,9,12,15], "tickSize": 6, "labels": false, "title": null}}}},
    {"data": {"values": [{}]}, "mark": {"type": "text", "text": "1", "align": "right", "baseline": "alphabetic"}, "encoding": {"x": {"datum": 20.25, "axis": {"values": [6,9,12,15,18,21], "tickSize": 12, "labelFontSize": 21, "labelPadding": 9, "title": "Time (h)", "titleFontSize": 22, "titlePadding": 4}}, "y": {"datum": 12.05, "axis": {"values": [0,3,6,9,12,15], "tickSize": 6, "labels": false, "title": null}}}}
  ]}
 ]
}
]
}
